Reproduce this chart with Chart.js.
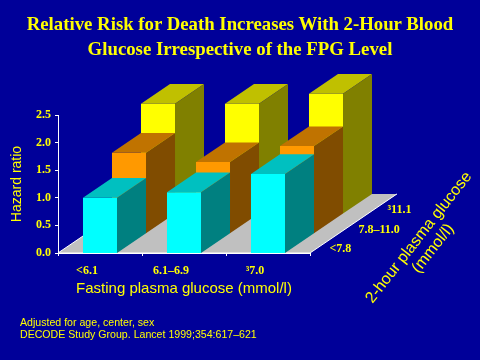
<!DOCTYPE html>
<html>
<head>
<meta charset="utf-8">
<script src="https://cdn.jsdelivr.net/npm/chart.js@4.4.1/dist/chart.umd.min.js"></script>
<style>
  html, body { margin: 0; padding: 0; background: #000099; }
  #wrap { position: relative; width: 480px; height: 360px; overflow: hidden; background: #000099; }
  #chart { position: absolute; left: 0; top: 0; }
  .title { position: absolute; left: 0; top: 11px; width: 480px; text-align: center; color: #ffff00;
           font: bold 18.8px/25px 'Liberation Serif', 'Times New Roman', serif; }
  .note { position: absolute; left: 20px; top: 316px; color: #ffff00;
          font: 10.6px/12px 'Liberation Sans', Arial, sans-serif; }
</style>
</head>
<body>
<div id="wrap">
  <canvas id="chart" width="480" height="360"></canvas>
  <div class="title">Relative Risk for Death Increases With 2-Hour Blood<br>Glucose Irrespective of the FPG Level</div>
  <div class="note">Adjusted for age, center, sex<br>DECODE Study Group. Lancet 1999;354:617–621</div>
</div>
<script>
// Data
const fpgLabels = ['<6.1', '6.1–6.9', '³7.0'];
const ogttLabels = ['<7.8', '7.8–11.0', '³11.1'];
const hrLow = [1.00, 1.10, 1.43];
const hrMid = [1.46, 1.29, 1.58];
const hrHigh = [1.99, 1.99, 2.17];
const yTicks = [0, 0.5, 1.0, 1.5, 2.0, 2.5];

// 3D look
const DX = 29, DY = 19.7;
const faces = [
    { front: '#00ffff', top: '#00c0c0', side: '#008080' },
    { front: '#ff9900', top: '#c07300', side: '#804c00' },
    { front: '#ffff00', top: '#c0c000', side: '#808000' }
];
const YELLOW = '#ffff00';
const tickFont = { family: "'Liberation Serif', 'Times New Roman', serif", size: 12, weight: 'bold' };
const sansFont = "'Liberation Sans', Arial, sans-serif";

function poly(ctx, pts, color) {
    ctx.beginPath();
    ctx.moveTo(pts[0][0], pts[0][1]);
    for (let k = 1; k < pts.length; k++) ctx.lineTo(pts[k][0], pts[k][1]);
    ctx.closePath();
    ctx.fillStyle = color;
    ctx.fill();
}

const bars3d = {
    id: 'bars3d',
    beforeDatasetsDraw(chart) {
        const { ctx, chartArea, scales: { x, y } } = chart;
        const rows = chart.data.datasets.length;
        const base = y.getPixelForValue(0);
        const L = chartArea.left, R = chartArea.right;
        ctx.save();

        // floor
        poly(ctx, [[L, base], [R, base], [R + rows * DX, base - rows * DY], [L + rows * DX, base - rows * DY]], '#c0c0c0');
        ctx.strokeStyle = '#ffffff';
        ctx.lineWidth = 1;
        ctx.beginPath();
        ctx.moveTo(L + rows * DX, base - rows * DY);
        ctx.lineTo(L, base);
        ctx.lineTo(R, base);
        ctx.lineTo(R + rows * DX, base - rows * DY);
        ctx.stroke();

        // bars, back row first
        const catW = x.getPixelForValue(1) - x.getPixelForValue(0);
        const bw = catW * 0.405;
        for (let d = rows - 1; d >= 0; d--) {
            const vals = chart.data.datasets[d].data;
            const c = faces[d];
            for (let i = 0; i < vals.length; i++) {
                const cx = x.getPixelForValue(i) + d * DX;
                const x0 = cx - bw / 2, x1 = cx + bw / 2;
                const yb = base - d * DY;
                const yt = y.getPixelForValue(vals[i]) - d * DY;
                poly(ctx, [[x0, yt], [x1, yt], [x1, yb], [x0, yb]], c.front);
                poly(ctx, [[x0, yt], [x1, yt], [x1 + DX, yt - DY], [x0 + DX, yt - DY]], c.top);
                poly(ctx, [[x1, yt], [x1 + DX, yt - DY], [x1 + DX, yb - DY], [x1, yb]], c.side);
            }
        }

        // depth axis labels
        ctx.fillStyle = YELLOW;
        ctx.font = 'bold 12px ' + tickFont.family;
        ctx.textAlign = 'left';
        ctx.textBaseline = 'middle';
        for (let d = 0; d < ogttLabels.length; d++) {
            ctx.fillText(ogttLabels[d], R + (d + 0.5) * DX + 5, base - (d + 0.5) * DY + 6);
        }

        // depth axis title
        ctx.translate(426, 243);
        ctx.rotate(-52 * Math.PI / 180);
        ctx.font = '16px ' + sansFont;
        ctx.textAlign = 'center';
        ctx.fillText('2-hour plasma glucose', 0, -9);
        ctx.fillText('(mmol/l)', 0, 9);
        ctx.restore();
    }
};

new Chart(document.getElementById('chart'), {
    type: 'bar',
    data: {
        labels: fpgLabels,
        datasets: [
            { label: ogttLabels[0], data: hrLow },
            { label: ogttLabels[1], data: hrMid },
            { label: ogttLabels[2], data: hrHigh }
        ].map(ds => Object.assign(ds, { backgroundColor: 'rgba(0,0,0,0)', borderWidth: 0 }))
    },
    options: {
        responsive: false,
        animation: false,
        devicePixelRatio: 1,
        layout: { padding: { top: 115, right: 170, bottom: 0, left: 0 } },
        plugins: {
            legend: { display: false },
            tooltip: { enabled: false }
        },
        scales: {
            x: {
                afterFit(scale) { scale.height = 107; },
                grid: { display: true, drawOnChartArea: false, color: '#ffffff', tickLength: 3 },
                border: { display: true, color: '#ffffff' },
                ticks: { color: YELLOW, font: tickFont, padding: 8, labelOffset: -13, maxRotation: 0 },
                title: {
                    display: true, text: 'Fasting plasma glucose (mmol/l)', color: YELLOW,
                    font: { family: sansFont, size: 15 }, padding: { top: 0, bottom: 62 }
                }
            },
            y: {
                min: 0, max: 2.5,
                afterFit(scale) { scale.width = 58; },
                afterBuildTicks(scale) { scale.ticks = yTicks.map(v => ({ value: v })); },
                grid: { display: true, drawOnChartArea: false, color: '#ffffff', tickLength: 3 },
                border: { display: true, color: '#ffffff' },
                ticks: {
                    color: YELLOW, font: tickFont, padding: 4,
                    callback: function (value) { return Number(value).toFixed(1); }
                },
                title: {
                    display: true, text: 'Hazard ratio', color: YELLOW,
                    font: { family: sansFont, size: 14 }, padding: { top: 9, bottom: 0 }
                }
            }
        }
    },
    plugins: [bars3d]
});
</script>
</body>
</html>
